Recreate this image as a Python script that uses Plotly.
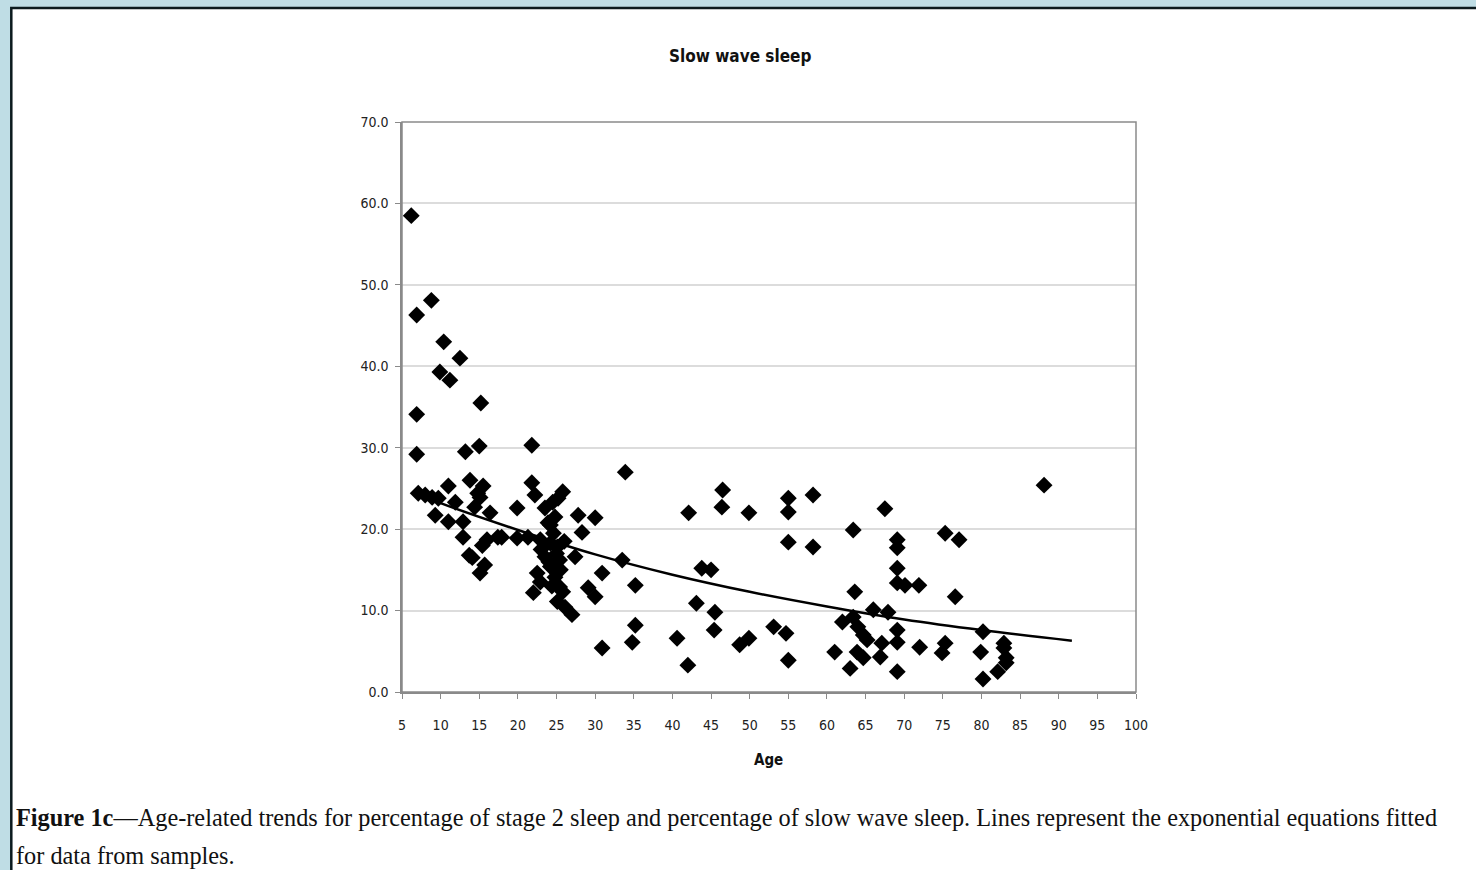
import plotly.graph_objects as go

# Slow wave sleep (% of total sleep) by age
age = [
    6.2, 6.9, 8.8, 6.9, 6.9, 10.4, 9.9, 11.2, 12.5, 15.2, 13.2, 15.0, 21.8, 33.9, 88.1,
    7.1, 8.0, 8.9, 9.7, 11.0, 13.8, 15.5, 15.1, 11.9, 9.3, 11.0, 12.9, 12.9, 15.4, 14.1,
    15.1, 16.4, 17.4, 14.4, 14.8, 13.7, 15.7, 16.0,
    19.9, 21.8, 22.2, 23.5, 24.5, 25.2, 25.8, 27.8, 30.0, 28.3, 23.9, 24.2, 17.9, 19.9,
    21.3, 22.9, 24.2, 25.1, 25.4, 23.5, 27.4, 33.5, 30.9, 22.5, 24.2, 24.8, 25.4, 22.9,
    22.0, 25.8, 29.1, 30.0, 25.1, 26.1, 27.0, 35.2, 35.2, 34.8, 30.9,
    24.6, 25.0, 24.0, 25.5, 24.4, 23.0, 26.0, 24.8,
    42.1, 46.5, 46.4, 49.9, 55.0, 55.0, 58.2, 55.0, 58.2, 43.8, 45.0, 43.1, 45.5, 45.4,
    40.6, 42.0, 48.7, 49.9, 53.1, 54.7, 55.0, 61.0,
    67.5, 63.4, 69.1, 69.1, 69.1, 69.1, 70.1, 71.9, 75.3, 77.1, 76.6, 63.6, 66.0, 67.9,
    62.0, 63.4, 64.0, 64.7, 65.2, 67.1, 69.1, 69.1, 63.9, 64.7, 66.9, 63.0, 69.1, 72.0,
    75.3, 74.9, 80.2, 79.9, 80.2, 82.9, 83.2, 83.2, 82.1, 82.9,
]
sws = [
    58.5, 46.3, 48.1, 34.1, 29.2, 43.0, 39.3, 38.3, 41.0, 35.5, 29.5, 30.2, 30.3, 27.0, 25.4,
    24.4, 24.2, 23.9, 23.8, 25.3, 26.0, 25.3, 23.9, 23.3, 21.7, 20.9, 20.9, 19.0, 18.0, 16.5,
    14.6, 22.0, 19.0, 22.7, 24.4, 16.8, 15.6, 18.7,
    22.6, 25.7, 24.2, 22.6, 23.3, 23.8, 24.6, 21.7, 21.4, 19.6, 20.8, 20.5, 19.0, 18.9,
    19.0, 18.7, 18.3, 17.8, 16.2, 16.6, 16.6, 16.2, 14.6, 14.6, 15.4, 14.1, 12.9, 13.5,
    12.2, 12.3, 12.8, 11.7, 11.1, 10.4, 9.5, 13.1, 8.2, 6.1, 5.4,
    19.5, 17.0, 16.0, 15.0, 13.0, 17.5, 18.5, 21.5,
    22.0, 24.8, 22.7, 22.0, 23.8, 22.1, 24.2, 18.4, 17.8, 15.2, 15.0, 10.9, 9.8, 7.6,
    6.6, 3.3, 5.8, 6.6, 8.0, 7.2, 3.9, 4.9,
    22.5, 19.9, 18.7, 17.7, 15.2, 13.4, 13.1, 13.1, 19.5, 18.7, 11.7, 12.3, 10.1, 9.8,
    8.6, 9.2, 8.0, 7.0, 6.4, 6.0, 7.6, 6.1, 4.9, 4.2, 4.3, 2.9, 2.5, 5.5,
    6.0, 4.8, 7.4, 4.9, 1.6, 6.0, 4.2, 3.6, 2.5, 5.4,
]

# Fitted exponential trend, sampled along the drawn curve
trend_age = [6.4, 10, 20, 30, 40, 50, 60, 70, 80, 91.7]
trend_sws = [24.6, 23.2, 19.9, 16.9, 14.4, 12.3, 10.5, 8.9, 7.6, 6.3]

x_ticks = list(range(5, 101, 5))
y_ticks = [0, 10, 20, 30, 40, 50, 60, 70]
y_tick_text = [f"{v:.1f}" for v in y_ticks]

narrow = "Liberation Sans Narrow, DejaVu Sans Condensed, Arial, sans-serif"
serif = "Liberation Serif, Times New Roman, serif"

fig = go.Figure()
fig.add_trace(go.Scatter(
    x=age, y=sws, mode="markers",
    marker=dict(symbol="diamond", size=13, color="black", line=dict(width=0)),
    showlegend=False, hoverinfo="x+y",
))
fig.add_trace(go.Scatter(
    x=trend_age, y=trend_sws, mode="lines", line_shape="spline",
    line=dict(color="black", width=2.5),
    showlegend=False, hoverinfo="skip",
))

W, H = 1476, 870
L, R, T, B = 402, 1136, 122, 692
pw, ph = R - L, B - T


def px_x(px):
    return (px - L) / pw


def px_y(py):
    return (B - py) / ph


fig.update_layout(
    width=W, height=H,
    margin=dict(l=L, r=W - R, t=T, b=H - B, pad=0),
    paper_bgcolor="#bfdde5",
    plot_bgcolor="white",
    font=dict(family=narrow, color="#1a1a1a", size=14),
    shapes=[
        # white page panel with dark frame
        dict(type="rect", xref="paper", yref="paper", layer="below",
             x0=px_x(11.3), x1=px_x(1500), y0=px_y(8), y1=px_y(900),
             fillcolor="white", line=dict(color="#0b1a1e", width=2.5)),
        # plot area frame
        dict(type="rect", xref="paper", yref="paper", layer="above",
             x0=0, x1=1, y0=0, y1=1, line=dict(color="#8a8a8a", width=1.5)),
    ],
    annotations=[
        dict(text="<b>Slow wave sleep</b>", xref="paper", yref="paper",
             x=px_x(740), y=px_y(56), xanchor="center", yanchor="middle",
             showarrow=False, font=dict(family=narrow, size=17, color="#111")),
        dict(text="<b>Age</b>", xref="paper", yref="paper",
             x=px_x(768), y=px_y(760), xanchor="center", yanchor="middle",
             showarrow=False, font=dict(family=narrow, size=15, color="#111")),
        dict(text="<b>Figure 1c</b>—Age-related trends for percentage of stage 2 sleep and percentage of slow wave sleep. "
                  "Lines represent the exponential equations fitted",
             xref="paper", yref="paper", x=px_x(14), y=px_y(817),
             xanchor="left", yanchor="middle", showarrow=False,
             font=dict(family=serif, size=24.3, color="#111")),
        dict(text="for data from samples.",
             xref="paper", yref="paper", x=px_x(14), y=px_y(855),
             xanchor="left", yanchor="middle", showarrow=False,
             font=dict(family=serif, size=24.3, color="#111")),
    ],
    xaxis=dict(
        range=[5, 100], tickmode="array", tickvals=x_ticks,
        ticks="outside", ticklen=5, tickcolor="#8a8a8a", ticklabelstandoff=14,
        showgrid=False, zeroline=False, showline=True, linecolor="#8a8a8a", linewidth=1.5,
        tickfont=dict(family=narrow, size=14, color="#222"),
        fixedrange=True,
    ),
    yaxis=dict(
        range=[0, 70], tickmode="array", tickvals=y_ticks, ticktext=y_tick_text,
        ticks="outside", ticklen=5, tickcolor="#8a8a8a", ticklabelstandoff=4,
        showgrid=True, gridcolor="#dcdcdc", gridwidth=2, zeroline=False,
        showline=True, linecolor="#8a8a8a", linewidth=1.5,
        tickfont=dict(family=narrow, size=14, color="#222"),
        fixedrange=True,
    ),
)

fig.write_html("out.html")
